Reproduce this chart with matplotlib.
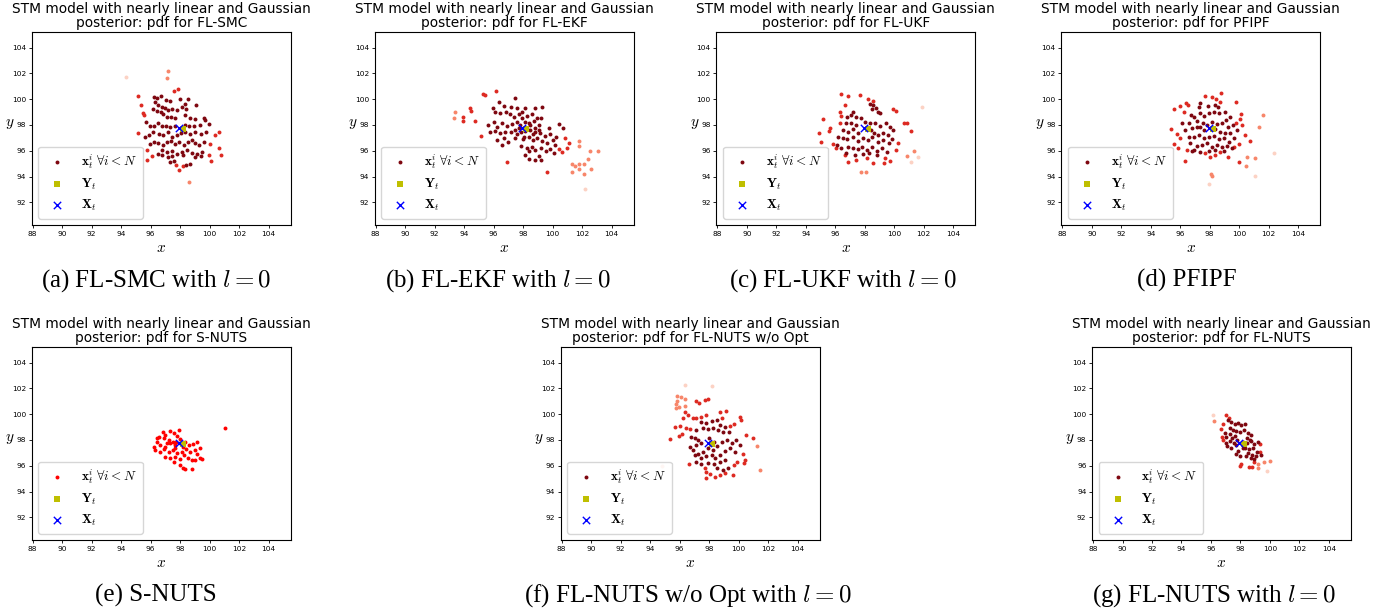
import matplotlib
matplotlib.use('Agg')
import matplotlib.pyplot as plt

plt.rcParams['mathtext.fontset'] = 'cm'

# ------------------- Data ------------------- #

STATE_X = (97.92, 97.75)   # true state X_t
MEAS_Y = (98.22, 97.68)    # measurement Y_t

X_TICKS = [88, 90, 92, 94, 96, 98, 100, 102, 104]
Y_TICKS = [92, 94, 96, 98, 100, 102, 104]

# (a) FL-SMC
SMC_PALE = [(94.3, 101.75)]
SMC_LIGHT = [(97.17, 102.2), (97.1, 101.67), (98.62, 93.6)]
SMC_RED = [(95.13, 100.25), (97.57, 100.64), (97.85, 100.79), (95.33, 99.55), (95.45, 98.96), (95.56, 98.75),
           (95.17, 97.35), (100.38, 97.22), (100.65, 97.43), (100.61, 96.19), (100.77, 95.67), (95.74, 95.28),
           (97.94, 94.51), (100.09, 95.21), (97.71, 94.9), (98.16, 94.85), (99.93, 95.67), (96.12, 95.62),
           (95.74, 96.06), (100.04, 96.5)]
SMC_DARK = [(96.26, 100.15), (96.44, 100.12), (96.71, 100.22), (97.03, 99.94), (97.33, 99.84), (97.96, 99.99),
            (98.5, 100.04), (98.34, 99.6), (99.09, 99.55), (96.3, 99.81), (96.53, 99.55), (96.76, 99.37),
            (96.98, 99.29), (97.21, 99.19), (97.48, 99.27), (97.8, 99.19), (98.12, 99.37), (98.37, 99.22),
            (96.19, 99.21), (96.42, 99.11), (96.67, 99.03), (96.87, 98.83), (97.1, 98.65), (97.39, 98.6),
            (97.66, 98.52), (98.34, 98.78), (98.68, 98.52), (98.98, 98.47), (99.59, 98.57), (99.7, 98.39),
            (95.69, 98.21), (95.97, 97.95), (96.26, 97.92), (96.53, 98.13), (96.76, 97.95), (97.03, 97.92),
            (97.33, 97.87), (97.66, 97.92), (98.34, 98.0), (98.62, 97.92), (98.95, 97.95), (99.32, 98.0),
            (99.93, 98.08), (95.63, 97.09), (95.92, 97.22), (96.19, 97.43), (96.58, 97.28), (96.87, 97.22),
            (97.21, 97.43), (97.48, 97.09), (97.78, 97.22), (98.07, 97.35), (98.34, 97.43), (98.68, 97.28),
            (99.02, 97.48), (99.43, 97.28), (99.77, 97.43), (95.97, 96.5), (96.26, 96.66), (96.53, 96.58),
            (96.87, 96.45), (97.1, 96.66), (97.39, 96.76), (97.66, 96.5), (97.94, 96.66), (98.23, 96.45),
            (98.52, 96.66), (98.8, 96.81), (99.02, 96.58), (99.3, 96.45), (99.59, 96.66), (96.49, 95.78),
            (96.76, 96.06), (97.1, 95.88), (97.44, 95.98), (97.76, 95.78), (98.12, 95.93), (98.46, 96.06),
            (98.8, 95.83), (99.14, 95.72), (99.48, 95.93), (96.76, 95.67), (97.17, 95.54), (97.48, 95.62),
            (98.16, 95.67), (99.02, 95.54), (99.43, 95.62), (97.55, 95.21), (97.33, 95.1), (98.39, 94.9),
            (98.68, 94.95)]

# (b) FL-EKF
EKF_PALE = [(102.18, 93.01)]
EKF_LIGHT = [(93.39, 99.04), (93.28, 98.57), (102.56, 95.98), (103.06, 95.98), (101.77, 96.76), (101.81, 96.4),
             (101.31, 94.95), (101.5, 94.85), (101.81, 95.0), (102.13, 94.95), (102.4, 95.36), (101.31, 94.38),
             (101.81, 94.59), (102.13, 94.23), (102.58, 94.59)]
EKF_RED = [(94.41, 99.35), (94.45, 99.09), (93.95, 98.65), (93.91, 98.34), (94.75, 98.34), (95.31, 100.41),
           (95.43, 100.33), (96.15, 100.64), (95.15, 97.17), (96.9, 95.1), (99.62, 94.38), (100.86, 96.97),
           (101.09, 96.58), (100.97, 96.19), (100.64, 95.88), (100.41, 96.14)]
EKF_DARK = [(97.46, 100.07), (95.93, 99.35), (96.33, 99.76), (96.67, 99.48), (97.19, 99.42), (97.58, 99.3),
            (98.1, 99.3), (98.78, 99.3), (99.28, 99.42), (96.06, 99.04), (96.45, 98.91), (96.83, 98.98),
            (97.13, 98.83), (97.35, 98.65), (97.69, 98.83), (97.92, 98.98), (98.26, 98.73), (98.6, 98.83),
            (98.94, 98.52), (99.23, 98.57), (95.61, 98.0), (95.99, 98.26), (96.22, 97.87), (96.56, 98.13),
            (96.9, 97.95), (97.24, 98.05), (97.58, 98.21), (97.8, 98.0), (98.37, 98.13), (98.71, 98.31),
            (99.1, 98.0), (99.73, 97.74), (100.41, 98.05), (100.68, 97.8), (95.77, 97.48), (96.11, 97.54),
            (96.45, 97.35), (96.79, 97.43), (97.19, 97.48), (97.46, 97.61), (97.87, 97.43), (98.14, 97.54),
            (98.48, 97.61), (98.82, 97.43), (99.16, 97.35), (99.5, 97.17), (99.84, 97.28), (100.23, 97.1),
            (96.22, 96.84), (96.67, 96.97), (96.97, 96.71), (97.46, 97.02), (97.96, 96.92), (98.37, 97.1),
            (98.64, 96.84), (98.94, 96.97), (99.28, 96.76), (99.62, 96.58), (100.0, 96.84), (100.18, 96.45),
            (96.56, 96.45), (97.87, 96.4), (98.26, 96.19), (98.6, 96.32), (98.82, 96.06), (99.23, 96.19),
            (99.55, 95.98), (99.84, 96.14), (100.07, 95.8), (98.14, 95.67), (98.42, 95.36), (98.82, 95.28),
            (99.23, 95.28), (98.37, 95.98), (99.05, 95.62), (97.92, 98.52), (98.1, 98.26), (98.48, 98.0),
            (98.82, 97.8), (99.05, 97.61), (98.26, 97.69), (98.64, 97.28), (97.69, 97.74), (98.03, 97.1),
            (97.58, 97.28)]

# (c) FL-UKF
UKF_PALE = [(101.86, 99.42), (101.59, 95.54), (101.13, 95.15)]
UKF_LIGHT = [(101.36, 96.0), (100.84, 95.59), (97.78, 94.38), (98.08, 94.33)]
UKF_RED = [(96.36, 100.38), (96.88, 100.25), (97.67, 100.33), (98.19, 100.02), (98.57, 99.86), (99.89, 99.24),
           (100.09, 99.08), (100.68, 98.13), (100.84, 98.13), (101.13, 97.56), (95.18, 98.44), (94.88, 97.35),
           (95.02, 96.71), (95.63, 97.79), (95.56, 97.53), (95.86, 96.52), (96.02, 96.19), (96.65, 95.67),
           (96.88, 95.15), (97.44, 95.28), (98.17, 95.41), (98.57, 95.02), (99.37, 95.41), (99.32, 95.08),
           (99.71, 95.23), (100.28, 96.63), (100.09, 96.06), (96.31, 98.18), (96.65, 99.55), (96.31, 99.03),
           (96.38, 98.7)]
UKF_DARK = [(98.35, 99.63), (98.57, 99.55), (98.73, 99.29), (98.91, 99.03), (99.03, 98.9), (98.46, 99.21),
            (97.22, 99.03), (97.1, 98.78), (96.83, 98.65), (97.44, 98.65), (97.78, 98.52), (98.01, 98.26),
            (96.76, 98.13), (97.1, 98.18), (97.44, 98.0), (98.35, 98.13), (98.69, 98.18), (99.03, 97.92),
            (99.41, 98.18), (99.71, 97.87), (99.94, 97.61), (96.54, 97.61), (96.88, 97.48), (97.22, 97.66),
            (97.56, 97.35), (98.42, 97.61), (98.64, 97.4), (98.91, 97.22), (99.25, 97.4), (99.55, 97.22),
            (96.2, 97.09), (96.54, 96.96), (96.83, 96.89), (97.22, 97.04), (97.56, 96.78), (97.9, 96.96),
            (98.24, 96.83), (98.51, 97.04), (98.91, 96.71), (99.25, 96.83), (99.64, 96.58), (99.87, 96.89),
            (96.15, 96.45), (96.42, 96.19), (96.88, 96.32), (97.22, 96.19), (97.51, 96.11), (97.83, 96.27),
            (98.12, 96.06), (98.46, 96.32), (98.8, 96.01), (99.14, 96.19), (99.48, 95.93), (96.76, 95.8),
            (97.33, 95.67), (97.9, 95.75), (98.28, 95.8), (98.8, 95.67)]

# (d) PFIPF
PF_PALE = [(102.34, 95.85), (101.09, 94.04), (97.97, 93.4)]
PF_LIGHT = [(98.1, 94.17), (98.15, 94.04), (101.61, 98.78), (101.34, 97.87), (101.05, 95.41), (100.48, 94.82),
            (100.53, 95.54)]
PF_RED = [(98.78, 100.51), (97.7, 100.27), (98.15, 100.14), (98.44, 100.02), (98.72, 99.81), (99.8, 99.76),
          (95.55, 99.21), (96.0, 99.47), (96.41, 99.73), (96.5, 99.55), (96.22, 99.03), (95.36, 97.66),
          (95.77, 97.3), (95.95, 96.97), (95.55, 96.52), (95.88, 96.19), (96.45, 96.06), (96.34, 95.23),
          (100.12, 98.85), (100.07, 98.44), (99.8, 98.18), (100.19, 98.0), (100.41, 97.22), (100.71, 96.78),
          (99.96, 96.52), (99.67, 96.32), (99.24, 95.49), (99.96, 95.15), (98.04, 95.49), (98.38, 95.67),
          (97.7, 95.85), (98.72, 95.93)]
PF_DARK = [(97.36, 99.68), (97.24, 99.37), (97.86, 99.47), (98.38, 99.55), (98.53, 99.37), (97.36, 98.96),
           (96.72, 98.78), (96.9, 98.59), (97.58, 98.7), (97.92, 98.91), (98.26, 99.03), (98.6, 98.96),
           (99.06, 99.03), (99.4, 98.65), (99.12, 98.39), (96.11, 98.18), (96.56, 98.13), (97.13, 98.34),
           (97.54, 98.13), (97.81, 98.0), (98.15, 98.26), (98.49, 98.08), (98.83, 98.18), (99.21, 97.87),
           (99.58, 98.0), (99.85, 97.61), (96.34, 97.61), (96.79, 97.74), (97.13, 97.87), (97.36, 97.87),
           (97.58, 97.61), (98.38, 97.66), (98.72, 97.48), (99.06, 97.35), (99.4, 97.4), (96.56, 97.04),
           (96.9, 97.09), (97.24, 97.22), (97.58, 96.96), (97.92, 97.09), (98.26, 97.14), (98.6, 96.89),
           (98.94, 96.96), (99.28, 96.71), (99.62, 96.96), (96.68, 96.58), (97.13, 96.37), (97.47, 96.45),
           (97.81, 96.58), (98.15, 96.32), (98.49, 96.45), (98.83, 96.32), (99.17, 96.37), (99.51, 96.19),
           (96.79, 96.01), (96.9, 96.06), (97.36, 95.93), (97.92, 96.01), (98.38, 96.06), (98.94, 96.01)]

# (e) S-NUTS (uniform weights)
SNUTS_PTS = [(101.02, 98.91), (96.81, 98.65), (96.99, 98.39), (97.33, 98.7), (97.56, 98.52), (97.78, 98.34),
             (97.9, 98.78), (96.54, 98.26), (96.88, 98.13), (97.22, 98.0), (97.51, 97.87), (96.43, 97.82),
             (96.65, 97.61), (96.99, 97.48), (97.33, 97.74), (97.67, 97.61), (98.01, 97.74), (98.35, 97.87),
             (98.58, 97.61), (98.87, 97.66), (99.14, 97.87), (96.31, 97.22), (96.65, 97.09), (96.92, 97.3),
             (97.22, 97.09), (97.51, 97.22), (97.78, 96.96), (98.12, 97.09), (98.42, 97.3), (98.69, 97.09),
             (99.03, 97.22), (99.32, 97.35), (96.99, 96.71), (97.33, 96.58), (97.67, 96.71), (97.96, 96.53),
             (98.24, 96.84), (98.51, 96.63), (98.8, 96.45), (99.14, 96.89), (99.37, 96.63), (99.48, 96.53),
             (97.56, 96.32), (98.01, 96.06), (98.19, 95.85), (98.35, 95.75), (98.8, 95.75), (99.03, 96.45),
             (97.1, 97.74), (97.67, 97.35), (98.19, 97.48), (97.96, 98.08), (97.74, 97.87), (96.24, 97.48),
             (96.43, 98.18)]

# (f) FL-NUTS w/o Opt
NOOPT_PALE = [(96.35, 102.27), (98.16, 102.2), (94.77, 96.02)]
NOOPT_LIGHT = [(95.85, 101.42), (96.08, 101.32), (96.35, 101.19), (95.85, 101.03), (95.74, 100.77),
               (95.97, 100.59), (95.74, 100.46), (96.35, 100.67), (101.45, 95.68), (101.27, 97.57)]
NOOPT_RED = [(97.14, 101.03), (97.32, 100.85), (97.71, 101.11), (97.94, 101.16), (96.35, 100.21), (96.58, 99.95),
             (96.24, 99.74), (96.92, 99.74), (97.14, 99.74), (97.48, 99.82), (97.78, 99.95), (98.77, 100.15),
             (99.14, 100.26), (98.84, 99.74), (100.09, 99.82), (100.14, 99.56), (99.68, 99.22), (99.41, 99.12),
             (95.67, 99.04), (96.01, 99.12), (96.42, 98.96), (96.69, 98.86), (95.97, 98.34), (96.19, 98.45),
             (95.33, 98.08), (100.49, 98.4), (100.95, 98.19), (100.27, 96.9), (100.43, 96.46), (100.36, 96.2),
             (99.9, 96.28), (96.65, 96.12), (97.71, 95.86), (97.78, 95.55), (98.05, 95.34), (98.39, 95.16),
             (98.73, 95.29), (99.07, 95.42), (99.59, 95.29), (99.68, 96.07), (97.78, 95.03)]
NOOPT_DARK = [(97.48, 99.43), (97.82, 99.3), (98.16, 99.48), (98.5, 99.56), (98.73, 99.17), (99.07, 99.04),
              (99.36, 98.65), (98.96, 98.65), (98.62, 98.78), (98.28, 98.91), (97.94, 98.86), (97.6, 98.96),
              (97.14, 98.78), (96.8, 98.27), (97.03, 98.14), (97.26, 98.01), (97.14, 97.62), (97.42, 97.75),
              (96.92, 97.23), (97.26, 96.9), (97.6, 97.1), (97.94, 97.36), (98.23, 97.23), (98.55, 97.57),
              (98.84, 97.88), (99.18, 98.01), (99.52, 97.75), (99.82, 98.01), (100.09, 97.62), (96.69, 97.49),
              (97.03, 96.85), (97.48, 96.59), (97.82, 96.72), (98.16, 96.85), (98.39, 96.59), (98.77, 96.85),
              (99.07, 97.16), (99.41, 97.41), (99.75, 97.1), (99.07, 96.46), (98.73, 96.28), (98.32, 96.12),
              (97.94, 96.2), (97.48, 96.12), (97.14, 96.28), (98.5, 95.81), (98.96, 95.68), (99.29, 95.81),
              (98.05, 97.75), (98.32, 97.88), (98.0, 98.14)]

# (g) FL-NUTS
FLNUTS_PALE = [(96.13, 99.94), (99.82, 95.62)]
FLNUTS_LIGHT = [(96.24, 99.47), (99.98, 96.37), (99.57, 96.32), (99.19, 95.8), (99.19, 96.11)]
FLNUTS_RED = [(96.99, 99.94), (97.22, 99.68), (96.81, 99.22), (96.7, 98.86), (96.81, 98.0), (96.77, 98.26),
              (98.05, 96.11), (97.99, 96.01), (98.58, 95.93), (98.81, 95.93), (98.92, 96.32), (99.35, 97.09),
              (99.3, 97.66)]
FLNUTS_DARK = [(97.15, 99.55), (97.38, 99.37), (97.61, 99.22), (97.83, 99.29), (98.06, 99.16), (98.29, 99.22),
               (97.27, 98.93), (97.49, 98.75), (97.72, 98.67), (97.99, 98.6), (98.22, 98.75), (98.51, 98.54),
               (98.74, 98.42), (98.44, 98.16), (98.62, 98.03), (96.92, 98.57), (97.04, 98.26), (97.27, 98.44),
               (97.45, 98.18), (97.63, 98.31), (97.76, 98.0), (96.99, 97.79), (97.27, 97.92), (97.54, 97.74),
               (97.09, 97.53), (97.38, 97.4), (97.72, 97.58), (98.15, 97.87), (98.42, 97.74), (98.72, 97.92),
               (98.94, 97.66), (99.17, 97.87), (98.33, 97.4), (98.6, 97.3), (98.88, 97.35), (99.1, 97.09),
               (98.17, 97.35), (98.51, 97.01), (98.78, 96.84), (99.08, 96.76), (99.37, 96.84), (98.92, 96.5),
               (98.69, 96.58), (98.4, 96.76), (97.83, 97.14), (97.99, 96.76), (97.67, 96.89)]

# ------------------- Layout / style ------------------- #

W, H = 1388, 611
AX_W, AX_H = 259, 193
SHADES = [('pale', '#fcd2c4'), ('light', '#f7866a'), ('red', '#dd2a22'), ('dark', '#7e0710')]


def px_rect(left, top):
    return [left / W, 1 - (top + AX_H) / H, AX_W / W, AX_H / H]


def draw_panel(fig, left, top, method, groups, caption, cap_xy, flat_color=None):
    ax = fig.add_axes(px_rect(left, top))
    handle = None
    for shade, color in SHADES:
        pts = groups.get(shade)
        if not pts:
            continue
        xs, ys = zip(*pts)
        handle = ax.scatter(xs, ys, s=8, c=flat_color or color, linewidths=0)
    hy = ax.scatter([MEAS_Y[0]], [MEAS_Y[1]], marker='s', s=16, c='y', linewidths=0)
    hx = ax.scatter([STATE_X[0]], [STATE_X[1]], marker='x', s=28, c='b', linewidths=1)

    ax.set_xlim(87.93, 105.5)
    ax.set_ylim(90.22, 105.19)
    ax.set_xticks(X_TICKS)
    ax.set_yticks(Y_TICKS)
    ax.tick_params(labelsize=5.3, length=2, width=0.6, pad=2)
    ax.set_title('STM model with nearly linear and Gaussian\nposterior: pdf for ' + method,
                 fontsize=9.9, pad=4, linespacing=1.0)
    ax.set_xlabel('$x$', fontsize=11)
    ax.xaxis.set_label_coords(0.5, -0.075)
    ax.set_ylabel('$y$', fontsize=11, rotation=0, ha='center', va='center')
    ax.yaxis.set_label_coords(-0.085, 0.53)
    ax.legend([handle, hy, hx],
              [r'$\mathbf{x}_t^i\ \forall i<N$', r'$\mathbf{Y}_t$', r'$\mathbf{X}_t$'],
              loc='lower left', fontsize=9.5, labelspacing=0.42, borderpad=0.45)

    fig.text(cap_xy[0] / W, 1 - cap_xy[1] / H, caption, ha='center', va='baseline',
             fontsize=18, family='Liberation Serif')
    return ax


fig = plt.figure(figsize=(W / 100, H / 100), dpi=100)

draw_panel(fig, 31.7, 32.3, 'FL-SMC',
           {'pale': SMC_PALE, 'light': SMC_LIGHT, 'red': SMC_RED, 'dark': SMC_DARK},
           '(a) FL-SMC with $l = 0$', (156, 287))
draw_panel(fig, 374.7, 32.3, 'FL-EKF',
           {'pale': EKF_PALE, 'light': EKF_LIGHT, 'red': EKF_RED, 'dark': EKF_DARK},
           '(b) FL-EKF with $l = 0$', (498, 287))
draw_panel(fig, 716.3, 32.3, 'FL-UKF',
           {'pale': UKF_PALE, 'light': UKF_LIGHT, 'red': UKF_RED, 'dark': UKF_DARK},
           '(c) FL-UKF with $l = 0$', (843, 287))
draw_panel(fig, 1061.3, 32.3, 'PFIPF',
           {'pale': PF_PALE, 'light': PF_LIGHT, 'red': PF_RED, 'dark': PF_DARK},
           '(d) PFIPF', (1187, 287))
draw_panel(fig, 31.7, 347.3, 'S-NUTS', {'dark': SNUTS_PTS},
           '(e) S-NUTS', (156, 602), flat_color='red')
draw_panel(fig, 560.7, 347.3, 'FL-NUTS w/o Opt',
           {'pale': NOOPT_PALE, 'light': NOOPT_LIGHT, 'red': NOOPT_RED, 'dark': NOOPT_DARK},
           '(f) FL-NUTS w/o Opt with $l = 0$', (688, 602))
draw_panel(fig, 1092, 347.3, 'FL-NUTS',
           {'pale': FLNUTS_PALE, 'light': FLNUTS_LIGHT, 'red': FLNUTS_RED, 'dark': FLNUTS_DARK},
           '(g) FL-NUTS with $l = 0$', (1214, 602))

fig.savefig('out.png', dpi=100)
plt.close(fig)
